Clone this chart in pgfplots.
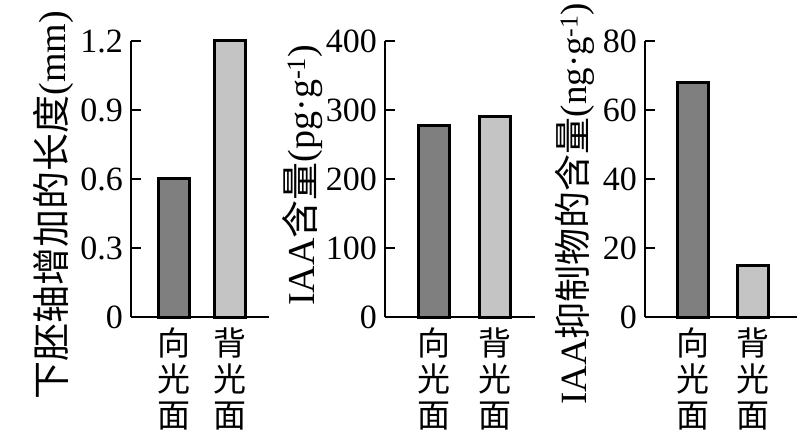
\documentclass[border=0pt]{standalone}
\usepackage{pgfplots}
\pgfplotsset{compat=1.18}
\usepackage{fontspec}
\setmainfont{Liberation Serif}
\newfontfamily\cjk{Noto Sans CJK SC}
\definecolor{darkbar}{HTML}{7F7F7F}
\definecolor{lightbar}{HTML}{C4C4C4}
\pgfplotsset{
  panel/.style={
    scale only axis,
    height=276pt,
    ymin=0,
    axis x line=bottom,
    axis y line=left,
    axis line style={-, line width=2pt, black},
    tick align=inside,
    major tick length=10pt,
    ytick style={line width=2pt, black},
    xtick style={draw=none},
    xtick pos=bottom,
    ytick pos=left,
    yticklabel style={font=\fontsize{34}{36}\selectfont, inner sep=0pt, xshift=-8pt},
    xticklabel style={font=\cjk\fontsize{33}{36}\selectfont, align=center, inner sep=0pt, yshift=-11pt},
    xticklabels={{向\\光\\面},{背\\光\\面}},
    ylabel style={font=\fontsize{38}{40}\selectfont, anchor=center, rotate=0},
    clip=false,
  },
  barstyle/.style={ybar, bar width=31pt, bar shift=0pt, draw=black, line width=3pt},
}
\begin{document}
\begin{tikzpicture}
\useasboundingbox (0,0) rectangle (811pt,447pt);
% Panel 1
\begin{axis}[panel,
  at={(131pt,130pt)}, anchor=south west,
  width=138pt, xmin=0, xmax=138, ymax=1.2,
  xtick={42.5,99},
  ytick={0,0.3,0.6,0.9,1.2},
  yticklabels={0,0.3,0.6,0.9,1.2},
  ylabel={{\cjk 下胚轴增加的长度}(mm)},
  ylabel style={at={(axis description cs:-0.565,0.405)}},
]
\addplot[barstyle, fill=darkbar] coordinates {(42.5,0.6)};
\addplot[barstyle, fill=lightbar] coordinates {(99,1.2)};
\end{axis}
% Panel 2
\begin{axis}[panel,
  at={(385pt,130pt)}, anchor=south west,
  width=150pt, xmin=0, xmax=150, ymax=400,
  xtick={48.5,109.5},
  ytick={0,100,200,300,400},
  yticklabels={0,100,200,300,400},
  ylabel={IAA{\cjk 含量}(pg·g\textsuperscript{-1})},
  ylabel style={at={(axis description cs:-0.547,0.514)}},
]
\addplot[barstyle, fill=darkbar] coordinates {(48.5,277)};
\addplot[barstyle, fill=lightbar] coordinates {(109.5,290)};
\end{axis}
% Panel 3
\begin{axis}[panel,
  at={(645pt,130pt)}, anchor=south west,
  width=152pt, xmin=0, xmax=152, ymax=80,
  xtick={48,108},
  ytick={0,20,40,60,80},
  yticklabels={0,20,40,60,80},
  ylabel={IAA{\cjk 抑制物的含量}(ng·g\textsuperscript{-1})},
  ylabel style={font=\fontsize{37}{40}\selectfont, at={(axis description cs:-0.46,0.41)}},
]
\addplot[barstyle, fill=darkbar] coordinates {(48,68)};
\addplot[barstyle, fill=lightbar] coordinates {(108,15)};
\end{axis}
\end{tikzpicture}
\end{document}
